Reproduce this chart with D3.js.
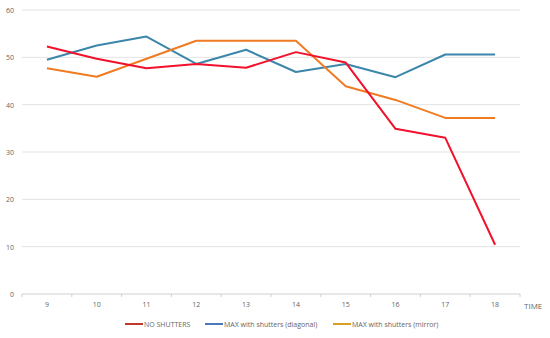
<!DOCTYPE html>
<html>
<head>
<meta charset="utf-8">
<script src="https://cdn.jsdelivr.net/npm/d3@7"></script>
<style>
    body { margin: 0; background: #fff; }
    svg { display: block; font-family: "Open Sans", "Liberation Sans", sans-serif; }
</style>
</head>
<body>
<script>
    // Chart data
    var hours = ["9", "10", "11", "12", "13", "14", "15", "16", "17", "18"];
    var noShutters = [52.3, 49.7, 47.7, 48.6, 47.8, 51.1, 48.9, 34.9, 33.0, 10.4];
    var diagonal = [49.5, 52.5, 54.4, 48.6, 51.6, 46.9, 48.6, 45.8, 50.6, 50.6];
    var mirror = [47.7, 45.9, 49.7, 53.5, 53.5, 53.5, 43.9, 41.0, 37.2, 37.2];
    var yTicks = [0, 10, 20, 30, 40, 50, 60];

    (function () {
        var seriesList = [
            { name: "MAX with shutters (diagonal)", values: diagonal, color: "#3d86ab" },
            { name: "MAX with shutters (mirror)", values: mirror, color: "#f07b22" },
            { name: "NO SHUTTERS", values: noShutters, color: "#f2112b" }
        ];
        var legendOrder = [
            { name: "NO SHUTTERS", color: "#c0392b" },
            { name: "MAX with shutters (diagonal)", color: "#4a78b8" },
            { name: "MAX with shutters (mirror)", color: "#d9a023" }
        ];

        var width = 550, height = 338;
        var plotLeft = 22, plotRight = 520, plotTop = 10, plotBottom = 294;

        var svg = d3.select("body").append("svg")
            .attr("width", width)
            .attr("height", height);

        var x = d3.scaleBand().domain(hours).range([plotLeft, plotRight]);
        var y = d3.scaleLinear().domain([0, 60]).range([plotBottom, plotTop]);

        // Gridlines
        svg.selectAll(".grid")
            .data(yTicks)
            .enter()
            .append("line")
            .attr("class", "grid")
            .attr("x1", plotLeft)
            .attr("x2", plotRight)
            .attr("y1", function (d) { return y(d); })
            .attr("y2", function (d) { return y(d); })
            .attr("stroke", function (d) { return d === 0 ? "#d0d0d0" : "#e3e3e3"; })
            .attr("stroke-width", 1);

        // Y labels
        svg.selectAll(".ylab")
            .data(yTicks)
            .enter()
            .append("text")
            .attr("class", "ylab")
            .attr("x", 14)
            .attr("y", function (d) { return y(d) + 3; })
            .attr("text-anchor", "end")
            .attr("fill", "#666")
            .style("font-size", "7px")
            .text(function (d) { return d; });

        // X axis ticks at band edges
        var edges = hours.map(function (h) { return x(h); }).concat([plotRight]);
        svg.selectAll(".xtick")
            .data(edges)
            .enter()
            .append("line")
            .attr("class", "xtick")
            .attr("x1", function (d) { return d; })
            .attr("x2", function (d) { return d; })
            .attr("y1", plotBottom)
            .attr("y2", plotBottom + 3)
            .attr("stroke", "#d0d0d0");

        svg.selectAll(".xlab")
            .data(hours)
            .enter()
            .append("text")
            .attr("class", "xlab")
            .attr("x", function (d) { return x(d) + x.bandwidth() / 2; })
            .attr("y", 307)
            .attr("text-anchor", "middle")
            .attr("fill", "#666")
            .style("font-size", "7px")
            .text(function (d) { return d; });

        svg.append("text")
            .attr("x", 524)
            .attr("y", 309)
            .attr("fill", "#666")
            .style("font-size", "8px")
            .text("TIME");

        // Lines
        var line = d3.line()
            .x(function (d, i) { return x(hours[i]) + x.bandwidth() / 2; })
            .y(function (d) { return y(d); });

        svg.selectAll(".series")
            .data(seriesList)
            .enter()
            .append("path")
            .attr("class", "series")
            .attr("d", function (d) { return line(d.values); })
            .attr("fill", "none")
            .attr("stroke", function (d) { return d.color; })
            .attr("stroke-width", 2)
            .attr("stroke-linejoin", "round");

        // Legend
        var legendX = [125, 205, 333];
        var legend = svg.selectAll(".legend")
            .data(legendOrder)
            .enter()
            .append("g")
            .attr("class", "legend")
            .attr("transform", function (d, i) { return "translate(" + legendX[i] + ",324)"; });

        legend.append("line")
            .attr("x1", 0)
            .attr("x2", 18)
            .attr("stroke", function (d) { return d.color; })
            .attr("stroke-width", 2);

        legend.append("text")
            .attr("x", 19)
            .attr("y", 2.5)
            .attr("fill", "#666")
            .style("font-size", "7px")
            .text(function (d) { return d.name; });
    })();
</script>
</body>
</html>
